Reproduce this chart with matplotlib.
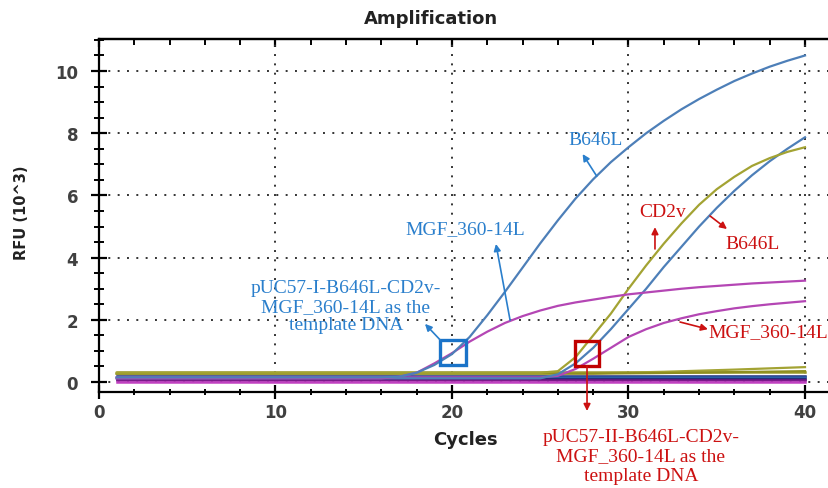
import matplotlib
matplotlib.use('Agg')
import matplotlib.pyplot as plt
from matplotlib.ticker import MultipleLocator
from matplotlib.patches import Rectangle

# amplified curves, template I (rise ~cycle 18)
cycles_I = [1, 16, 17, 18, 19, 20, 21, 22, 23, 24, 25, 26, 27, 28, 29, 30,
            31, 32, 33, 34, 35, 36, 37, 38, 39, 40]
b646l_I = [0.15, 0.15, 0.17, 0.3, 0.55, 0.9, 1.45, 2.15, 2.9, 3.68, 4.46, 5.2, 5.9,
           6.52, 7.07, 7.55, 8.0, 8.4, 8.77, 9.1, 9.4, 9.68, 9.92, 10.14, 10.33, 10.5]
mgf_I = [0.12, 0.12, 0.17, 0.3, 0.6, 0.93, 1.3, 1.62, 1.9, 2.12, 2.3, 2.45, 2.56,
         2.65, 2.74, 2.82, 2.88, 2.94, 3.0, 3.05, 3.09, 3.13, 3.17, 3.2, 3.23, 3.26]

# amplified curves, template II (rise ~cycle 26)
cycles_II = [1, 25, 26, 27, 28, 29, 30, 31, 32, 33, 34, 35, 36, 37, 38, 39, 40]
cd2v_II = [0.3, 0.3, 0.35, 0.8, 1.5, 2.2, 3.0, 3.75, 4.45, 5.1, 5.7, 6.2, 6.6,
           6.95, 7.2, 7.4, 7.55]
b646l_II = [0.12, 0.12, 0.25, 0.6, 1.1, 1.7, 2.35, 3.0, 3.7, 4.35, 5.0, 5.6, 6.15,
            6.65, 7.1, 7.5, 7.87]
mgf_II = [0.15, 0.15, 0.2, 0.42, 0.75, 1.1, 1.45, 1.7, 1.9, 2.05, 2.18, 2.28, 2.37,
          2.44, 2.5, 2.55, 2.6]

# negative / flat traces
flat_cycles = [1, 40]
flat_levels = [0.31, 0.2, 0.15, 0.11, 0.06, 0.0]
flat_colors = ['#9c9c2e', '#1f2a7a', '#2c5fa8', '#121266', '#7a1a8a', '#c040c0']
olive_cycles = [1, 28, 32, 36, 40]
olive_rise = [0.27, 0.28, 0.33, 0.4, 0.48]
olive_rise2 = [0.27, 0.27, 0.29, 0.32, 0.35]

BLUE = '#4d7fb8'
MAG = '#b446b4'
OLIVE = '#a3a333'
ABLUE = '#2a7fcc'
ARED = '#cc1111'

fig = plt.figure(figsize=(8.29, 4.89), dpi=100)
ax = fig.add_axes([99 / 829, 96 / 489, 730 / 829, 353 / 489])
ax.set_xlim(0, 730 / 17.65)
ax.set_ylim(-0.32, 11.03)

for lev, c in zip(flat_levels, flat_colors):
    ax.plot(flat_cycles, [lev, lev], color=c, lw=1.8, zorder=2)
ax.plot(olive_cycles, olive_rise, color=OLIVE, lw=1.6, zorder=2)
ax.plot(olive_cycles, olive_rise2, color='#8e8e20', lw=1.6, zorder=2)

ax.plot(cycles_II, mgf_II, color=MAG, lw=1.6, zorder=3)
ax.plot(cycles_II, b646l_II, color=BLUE, lw=1.6, zorder=3)
ax.plot(cycles_II, cd2v_II, color=OLIVE, lw=1.6, zorder=3)
ax.plot(cycles_I, mgf_I, color=MAG, lw=1.6, zorder=3)
ax.plot(cycles_I, b646l_I, color=BLUE, lw=1.6, zorder=3)

# axes styling
ax.spines['right'].set_visible(False)
for s in ['left', 'bottom', 'top']:
    ax.spines[s].set_linewidth(1.6)

ax.xaxis.set_major_locator(MultipleLocator(10))
ax.xaxis.set_minor_locator(MultipleLocator(2))
ax.yaxis.set_major_locator(MultipleLocator(2))
ax.yaxis.set_minor_locator(MultipleLocator(0.5))
ax.tick_params(axis='x', which='major', direction='inout', length=9.5, width=1.6, pad=3.3,
               labelsize=12, labelcolor='#404040', top=False)
ax.tick_params(axis='x', which='minor', direction='inout', length=5, width=1.4, top=False)
ax.tick_params(axis='y', which='major', direction='inout', length=12, width=1.6, pad=9,
               labelsize=12, labelcolor='#404040')
ax.tick_params(axis='y', which='minor', direction='inout', length=7, width=1.4)
for lab in ax.get_xticklabels() + ax.get_yticklabels():
    lab.set_fontweight('bold')

sec = ax.secondary_xaxis('top')
sec.xaxis.set_major_locator(MultipleLocator(10))
sec.xaxis.set_minor_locator(MultipleLocator(2))
sec.tick_params(which='major', direction='in', length=6, width=1.6, labeltop=False)
sec.tick_params(which='minor', direction='in', length=4, width=1.4)
sec.spines['top'].set_linewidth(1.6)

ax.grid(True, which='major', color='#333333', lw=1.4, linestyle=(0, (1, 3.8)), zorder=1)
ax.set_axisbelow(True)

fig.text(431 / 829, 1 - 19 / 489, 'Amplification', ha='center', va='center',
         fontsize=13, fontweight='bold', color='#222222')
fig.text(465 / 829, 1 - 440 / 489, 'Cycles', ha='center', va='center',
         fontsize=13, fontweight='bold', color='#222222')
fig.text(22 / 829, 1 - 213 / 489, 'RFU (10^3)', ha='center', va='center', rotation=90,
         fontsize=10.5, fontweight='bold', color='#222222')

# annotations
tf = dict(family='Liberation Serif', fontsize=14)


def arrow(xy, xytext, color):
    ax.annotate('', xy=xy, xytext=xytext, annotation_clip=False,
                arrowprops=dict(arrowstyle='-|>', color=color, lw=1.2,
                                mutation_scale=10, shrinkA=0, shrinkB=0), zorder=6)


ax.text(28.16, 7.81, 'B646L', color=ABLUE, ha='center', va='center', **tf)
arrow((27.4, 7.33), (28.2, 6.62), ABLUE)
ax.text(20.74, 4.92, 'MGF_360-14L', color=ABLUE, ha='center', va='center', **tf)
arrow((22.49, 4.44), (23.29, 1.99), ABLUE)
ax.text(13.99, 2.44, 'pUC57-I-B646L-CD2v-\nMGF_360-14L as the\ntemplate DNA',
        color=ABLUE, ha='center', va='center', linespacing=1.13, **tf)
arrow((18.47, 1.87), (19.32, 1.36), ABLUE)
ax.add_patch(Rectangle((19.32, 0.55), 1.47, 0.8, fill=False, ec='#1a73c8', lw=2.4, zorder=5))

ax.add_patch(Rectangle((26.97, 0.51), 1.36, 0.81, fill=False, ec='#c00000', lw=2.4, zorder=5))
arrow((27.65, -0.93), (27.65, 0.51), ARED)
ax.text(30.7, -2.38, 'pUC57-II-B646L-CD2v-\nMGF_360-14L as the\ntemplate DNA',
        color=ARED, ha='center', va='center', linespacing=1.2, clip_on=False, **tf)
ax.text(31.95, 5.47, 'CD2v', color=ARED, ha='center', va='center', **tf)
arrow((31.5, 4.98), (31.5, 4.28), ARED)
ax.text(37.05, 4.47, 'B646L', color=ARED, ha='center', va='center', **tf)
arrow((35.58, 4.92), (34.62, 5.34), ARED)
ax.text(34.5, 1.61, 'MGF_360-14L', color=ARED, ha='left', va='center', **tf)
arrow((34.5, 1.7), (32.92, 1.93), ARED)

fig.savefig('out.png', dpi=100)
